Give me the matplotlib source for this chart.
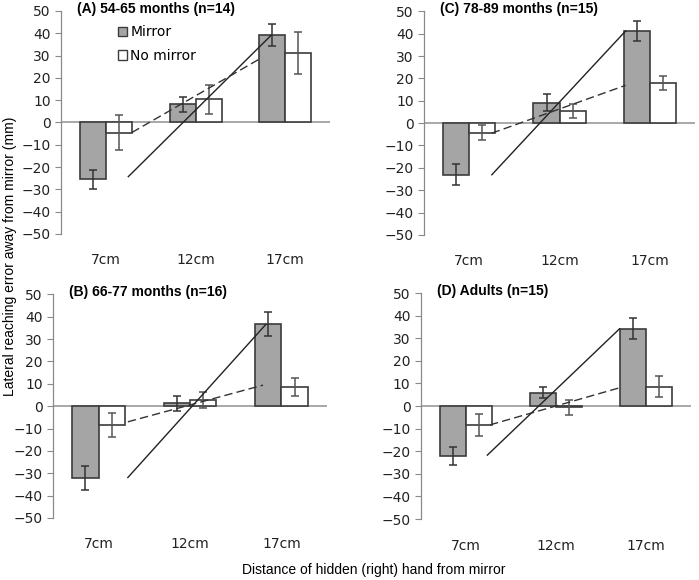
"""Lateral reaching error by hand distance, four age groups (mirror vs no mirror)."""

import matplotlib

matplotlib.use("Agg")
import matplotlib.pyplot as plt
from matplotlib.patches import Patch

categories = ["7cm", "12cm", "17cm"]
panel_titles = [
    "(A) 54-65 months (n=14)",
    "(C) 78-89 months (n=15)",
    "(B) 66-77 months (n=16)",
    "(D) Adults (n=15)",
]

# mean and error per panel, order A, C, B, D
mirror_means = [
    [-25.5, 8.1, 39.1],
    [-23.1, 9.1, 41.2],
    [-32.0, 1.2, 36.7],
    [-22.0, 6.0, 34.2],
]
mirror_errs = [
    [4.3, 3.3, 4.9],
    [4.7, 3.7, 4.4],
    [5.4, 3.3, 5.2],
    [3.9, 2.3, 4.6],
]
nomirror_means = [
    [-4.5, 10.3, 31.2],
    [-4.3, 5.5, 17.9],
    [-8.3, 2.7, 8.5],
    [-8.3, -0.6, 8.6],
]
nomirror_errs = [
    [7.8, 6.5, 9.3],
    [3.4, 3.2, 3.3],
    [5.4, 3.5, 4.0],
    [4.8, 3.2, 4.7],
]

# drawn trend lines: x in category units, y in mm
solid_x = [[0.25, 1.84], [0.25, 1.73], [0.32, 1.83], [0.24, 1.71]]
solid_y = [[-24.3, 39.0], [-23.1, 41.2], [-31.9, 36.5], [-21.7, 34.2]]
dashed_x = [[0.29, 1.74], [0.25, 1.73], [0.32, 1.80], [0.27, 1.71]]
dashed_y = [[-4.5, 29.1], [-4.5, 16.9], [-7.0, 9.4], [-8.3, 8.1]]

# axes rectangles in figure fractions (left, bottom, width, height)
positions = [
    (0.0873, 0.5966, 0.385, 0.3845),
    (0.6066, 0.595, 0.388, 0.3855),
    (0.0758, 0.1069, 0.392, 0.3857),
    (0.602, 0.105, 0.386, 0.3897),
]

BAR_W = 0.29
MIRROR_COLOR = "#a5a5a5"
EDGE = "#3c3c3c"
TICK_FONT = 10

fig = plt.figure(figsize=(6.99, 5.80), dpi=100)

for i in range(4):
    ax = fig.add_axes(positions[i])
    xs = list(range(len(categories)))
    ax.bar(
        [x - BAR_W / 2 for x in xs],
        mirror_means[i],
        width=BAR_W,
        color=MIRROR_COLOR,
        edgecolor=EDGE,
        linewidth=1.2,
        zorder=2,
    )
    ax.bar(
        [x + BAR_W / 2 for x in xs],
        nomirror_means[i],
        width=BAR_W,
        color="white",
        edgecolor=EDGE,
        linewidth=1.2,
        zorder=2,
    )
    ax.errorbar(
        [x - BAR_W / 2 for x in xs],
        mirror_means[i],
        yerr=mirror_errs[i],
        fmt="none",
        ecolor="#333333",
        elinewidth=1.1,
        capsize=3,
        capthick=1.1,
        zorder=3,
    )
    ax.errorbar(
        [x + BAR_W / 2 for x in xs],
        nomirror_means[i],
        yerr=nomirror_errs[i],
        fmt="none",
        ecolor="#555555",
        elinewidth=1.1,
        capsize=3,
        capthick=1.1,
        zorder=3,
    )
    ax.plot(solid_x[i], solid_y[i], color="#222222", linewidth=1.0, zorder=4)
    ax.plot(
        dashed_x[i],
        dashed_y[i],
        color="#333333",
        linewidth=1.0,
        linestyle=(0, (6, 3)),
        zorder=4,
    )
    ax.axhline(0, color="#9a9a9a", linewidth=1.2, zorder=1)

    ax.set_xlim(-0.5, 2.5)
    ax.set_ylim(-50, 50)
    ax.set_yticks(range(-50, 51, 10))
    ax.set_xticks(xs)
    ax.set_xticklabels(categories)
    ax.tick_params(axis="x", length=0, pad=14, labelsize=TICK_FONT, colors="#222222")
    ax.tick_params(
        axis="y", length=4, width=0.8, color="#8a8a8a",
        labelsize=TICK_FONT, labelcolor="#222222",
    )
    for side in ("top", "right", "bottom"):
        ax.spines[side].set_visible(False)
    ax.spines["left"].set_color("#8a8a8a")
    ax.spines["left"].set_linewidth(0.9)
    ax.patch.set_visible(False)

    ax.text(
        0.06, 1.01, panel_titles[i],
        transform=ax.transAxes, ha="left", va="center",
        fontsize=10, fontweight="bold", family="Liberation Sans",
    )

    if i == 0:
        handles = [
            Patch(facecolor=MIRROR_COLOR, edgecolor=EDGE, linewidth=1.0),
            Patch(facecolor="white", edgecolor=EDGE, linewidth=1.0),
        ]
        ax.legend(
            handles, ["Mirror", "No mirror"],
            loc="upper left", bbox_to_anchor=(0.19, 0.96),
            frameon=False, fontsize=TICK_FONT,
            handlelength=0.7, handleheight=0.7, handletextpad=0.2,
            labelspacing=0.7, borderaxespad=0,
        )

fig.text(
    0.014, 0.558, "Lateral reaching error away from mirror (mm)",
    rotation=90, ha="center", va="center", fontsize=10, family="Liberation Sans",
)
fig.text(
    0.534, 0.018, "Distance of hidden (right) hand from mirror",
    ha="center", va="center", fontsize=10, family="Liberation Sans",
)

fig.savefig("out.png", dpi=100)
